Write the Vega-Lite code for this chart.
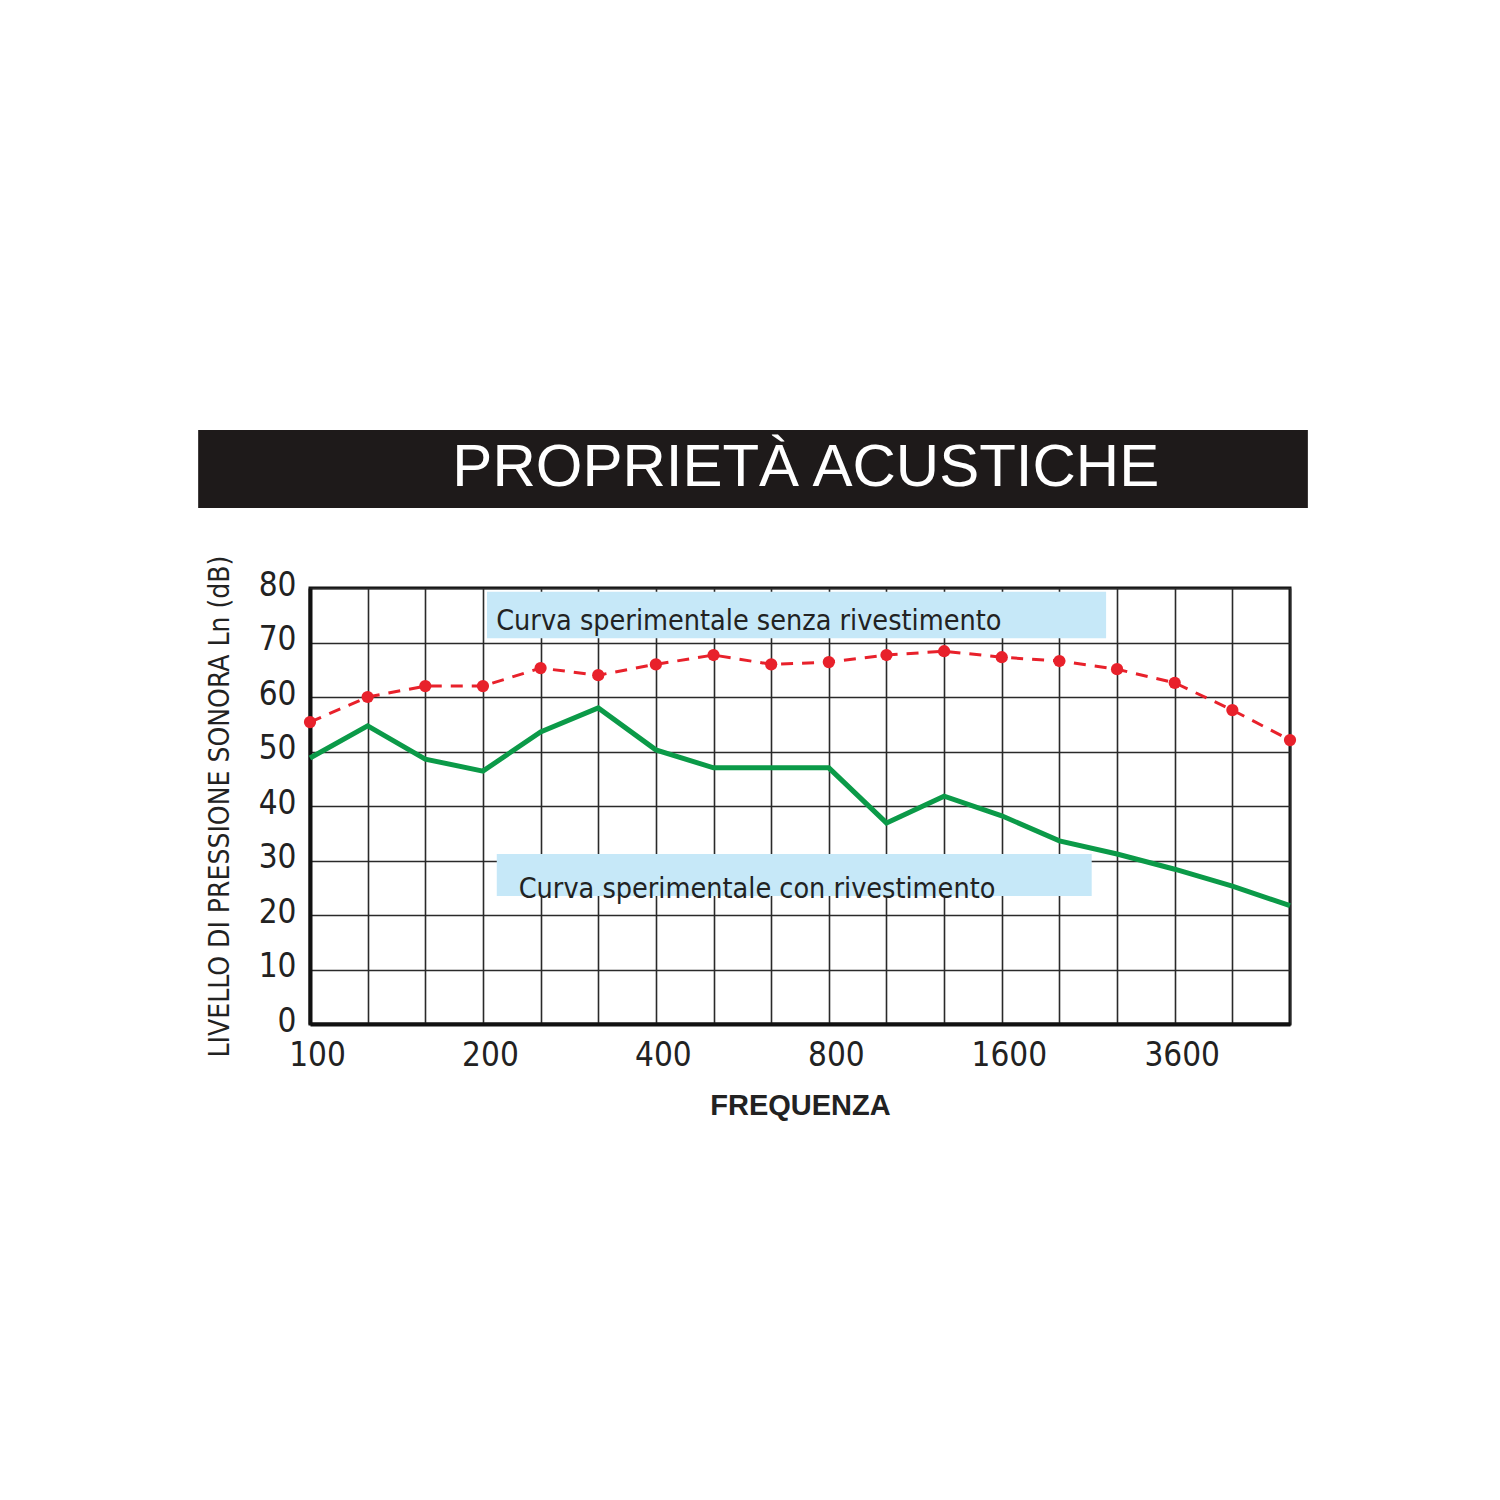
{
  "$schema": "https://vega.github.io/schema/vega-lite/v6.json",
  "width": 980,
  "height": 436,
  "autosize": "none",
  "padding": {"left": 310, "top": 588, "right": 210, "bottom": 476},
  "background": "white",
  "config": {
    "view": {"stroke": "#111111", "strokeWidth": 3},
    "axis": {
      "gridColor": "#2a2a2a",
      "gridWidth": 1.6,
      "gridOpacity": 1,
      "ticks": false,
      "labelFont": "DejaVu Sans Condensed, sans-serif",
      "labelFontSize": 33,
      "labelColor": "#222222",
      "domainColor": "#111111",
      "domainWidth": 4
    }
  },
  "datasets": {
    "levels": [
      {"band": 0, "senza": 55.4, "con": 48.8},
      {"band": 1, "senza": 60.0, "con": 54.7},
      {"band": 2, "senza": 62.0, "con": 48.6},
      {"band": 3, "senza": 62.0, "con": 46.4},
      {"band": 4, "senza": 65.3, "con": 53.6},
      {"band": 5, "senza": 64.0, "con": 58.0},
      {"band": 6, "senza": 66.0, "con": 50.3},
      {"band": 7, "senza": 67.7, "con": 47.0},
      {"band": 8, "senza": 66.0, "con": 47.0},
      {"band": 9, "senza": 66.4, "con": 47.0},
      {"band": 10, "senza": 67.7, "con": 36.9},
      {"band": 11, "senza": 68.4, "con": 41.8},
      {"band": 12, "senza": 67.3, "con": 38.2},
      {"band": 13, "senza": 66.6, "con": 33.6},
      {"band": 14, "senza": 65.1, "con": 31.2},
      {"band": 15, "senza": 62.6, "con": 28.4},
      {"band": 16, "senza": 57.6, "con": 25.3},
      {"band": 17, "senza": 52.1, "con": 21.7}
    ],
    "labels": [
      {"x0": 3.07, "x1": 13.81, "y0": 70.8, "y1": 79.3, "tx": 3.23, "ty": 72.3, "text": "Curva sperimentale senza rivestimento"},
      {"x0": 3.24, "x1": 13.56, "y0": 23.5, "y1": 31.2, "tx": 3.62, "ty": 23.1, "text": "Curva sperimentale con rivestimento"}
    ],
    "header": [
      {"x0": -1.94, "x1": 17.31, "y0": 94.7, "y1": 109.0, "tx": 8.6, "ty": 102.0, "text": "PROPRIETÀ ACUSTICHE"}
    ]
  },
  "layer": [
    {
      "data": {"name": "header"},
      "mark": {"type": "rect", "color": "#1e1a1a"},
      "encoding": {
        "x": {
          "field": "x0",
          "type": "quantitative",
          "scale": {"domain": [0, 17], "nice": false, "zero": false},
          "axis": {
            "title": "FREQUENZA",
            "titleFont": "Liberation Sans, Arial, sans-serif",
            "titleFontSize": 29,
            "titleFontWeight": "bold",
            "titleColor": "#222222",
            "titlePadding": 19,
            "values": [0, 1, 2, 3, 4, 5, 6, 7, 8, 9, 10, 11, 12, 13, 14, 15, 16, 17],
            "labelExpr": "datum.value == 0 ? '100' : datum.value == 3 ? '200' : datum.value == 6 ? '400' : datum.value == 9 ? '800' : datum.value == 12 ? '1600' : datum.value == 15 ? '3600' : ''",
            "labelPadding": 15,
            "labelOffset": 7,
            "labelFlush": false,
            "labelOverlap": false
          }
        },
        "x2": {"field": "x1"},
        "y": {
          "field": "y0",
          "type": "quantitative",
          "scale": {"domain": [0, 80], "nice": false},
          "axis": {
            "title": "LIVELLO DI PRESSIONE SONORA  Ln (dB)",
            "titleFont": "DejaVu Sans Condensed, sans-serif",
            "titleFontSize": 28,
            "titleFontWeight": "normal",
            "titleColor": "#222222",
            "titlePadding": 24,
            "values": [0, 10, 20, 30, 40, 50, 60, 70, 80],
            "labelPadding": 14,
            "labelOffset": -3,
            "labelFlush": false,
            "labelOverlap": false
          }
        },
        "y2": {"field": "y1"}
      }
    },
    {
      "data": {"name": "header"},
      "mark": {"type": "text", "color": "white", "font": "Liberation Sans, Arial, sans-serif", "fontSize": 60, "align": "center", "baseline": "middle"},
      "encoding": {
        "x": {"field": "tx", "type": "quantitative"},
        "y": {"field": "ty", "type": "quantitative"},
        "text": {"field": "text"}
      }
    },
    {
      "data": {"name": "labels"},
      "mark": {"type": "rect", "color": "#c6e8f8"},
      "encoding": {
        "x": {"field": "x0", "type": "quantitative"},
        "x2": {"field": "x1"},
        "y": {"field": "y0", "type": "quantitative"},
        "y2": {"field": "y1"}
      }
    },
    {
      "data": {"name": "labels"},
      "mark": {"type": "text", "color": "#222222", "font": "DejaVu Sans Condensed, sans-serif", "fontSize": 28.5, "align": "left", "baseline": "alphabetic"},
      "encoding": {
        "x": {"field": "tx", "type": "quantitative"},
        "y": {"field": "ty", "type": "quantitative"},
        "text": {"field": "text"}
      }
    },
    {
      "data": {"name": "levels"},
      "mark": {"type": "line", "color": "#0b9a48", "strokeWidth": 5},
      "encoding": {
        "x": {"field": "band", "type": "quantitative"},
        "y": {"field": "con", "type": "quantitative"}
      }
    },
    {
      "data": {"name": "levels"},
      "mark": {"type": "line", "color": "#e8212b", "strokeWidth": 3, "strokeDash": [12, 9], "point": {"filled": true, "size": 150, "color": "#e8212b"}},
      "encoding": {
        "x": {"field": "band", "type": "quantitative"},
        "y": {"field": "senza", "type": "quantitative"}
      }
    }
  ]
}
